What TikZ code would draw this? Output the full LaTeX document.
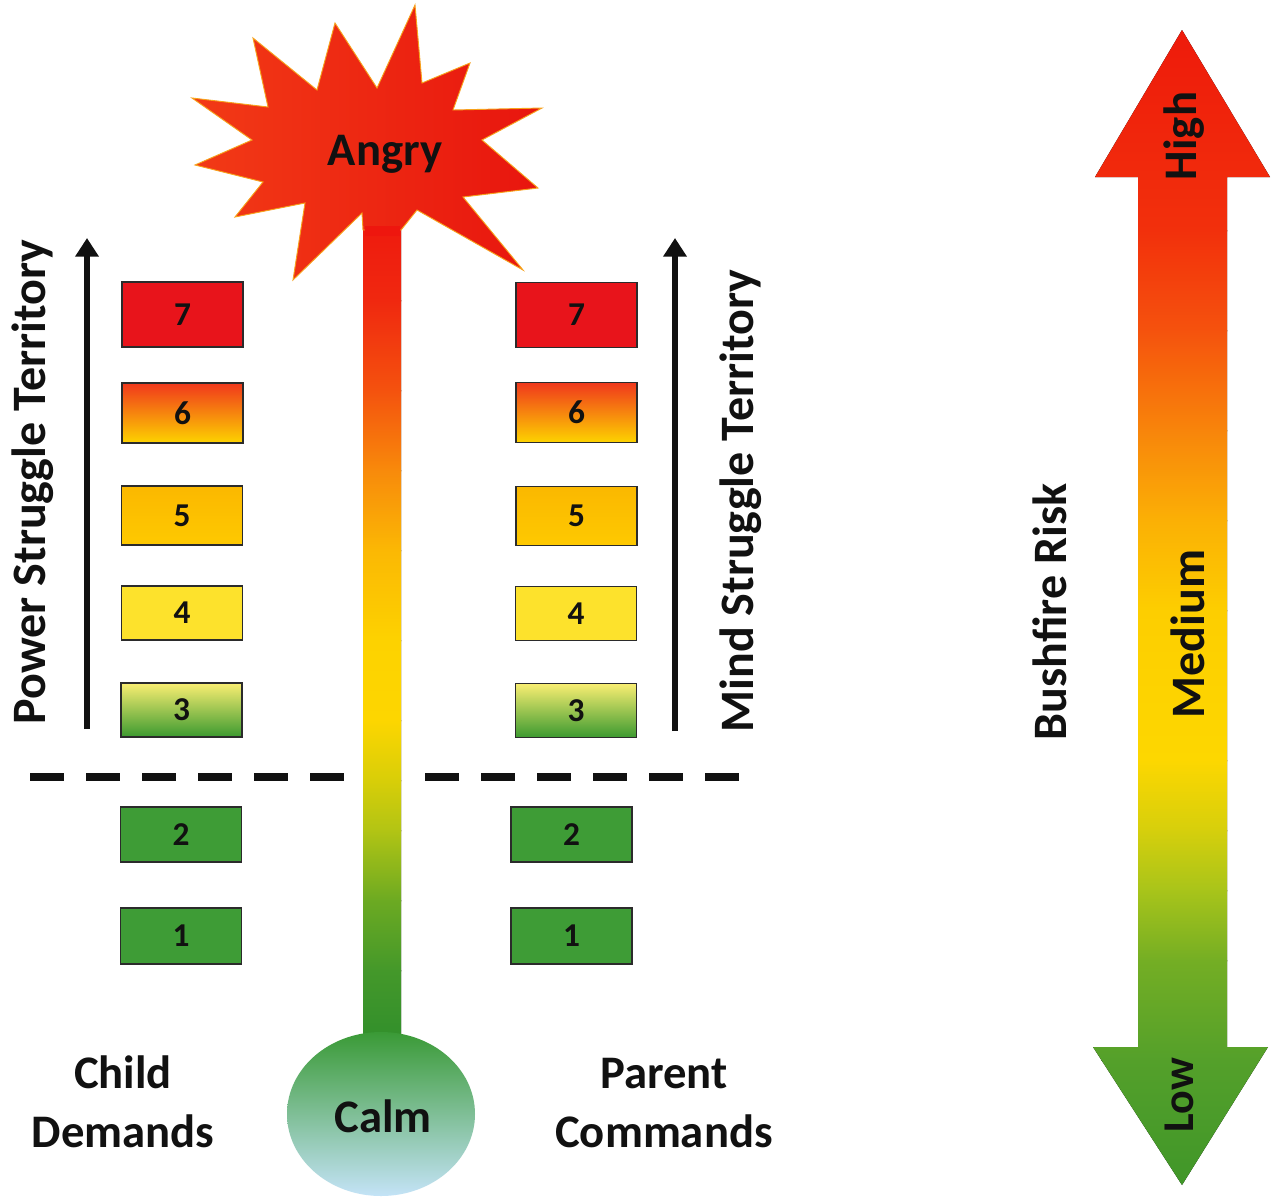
\documentclass[tikz,border=0pt]{standalone}
\usepackage{fontspec}
\setmainfont{Carlito}
\usetikzlibrary{arrows.meta,shapes.geometric}
% box colours
\definecolor{boxline}{HTML}{2B2B2B}
\definecolor{cseven}{HTML}{E8141B}
\definecolor{csixt}{HTML}{F0381C}
\definecolor{csixm}{HTML}{F8900E}
\definecolor{csixb}{HTML}{FDD300}
\definecolor{cfivet}{HTML}{FBB800}
\definecolor{cfiveb}{HTML}{FEC900}
\definecolor{cfour}{HTML}{FDE22C}
\definecolor{cthreet}{HTML}{F9EE72}
\definecolor{cthreem}{HTML}{C4D848}
\definecolor{cthreeb}{HTML}{3C9A30}
\definecolor{cgreen}{HTML}{3E9C36}
% star
\definecolor{starl}{HTML}{F23A16}
\definecolor{starr}{HTML}{E8150E}
\definecolor{starrim}{HTML}{F7A21C}
% circle
\definecolor{calmt}{HTML}{3A9A36}
\definecolor{calmm}{HTML}{80C190}
\definecolor{calmb}{HTML}{C4E3F7}
% stem stops
\definecolor{st0}{HTML}{EE160E}
\definecolor{st1}{HTML}{F0280F}
\definecolor{st2}{HTML}{F4520E}
\definecolor{st3}{HTML}{F88A0B}
\definecolor{st4}{HTML}{FBB804}
\definecolor{st5}{HTML}{FDD200}
\definecolor{st6}{HTML}{FDD600}
\definecolor{st7}{HTML}{D8CE08}
\definecolor{st8}{HTML}{B2C414}
\definecolor{st9}{HTML}{6CAA22}
\definecolor{st10}{HTML}{44982A}
\definecolor{st11}{HTML}{2F8E2C}
% big arrow stops
\definecolor{ar0}{HTML}{EE1A0B}
\definecolor{ar1}{HTML}{F2300C}
\definecolor{ar2}{HTML}{F5520D}
\definecolor{ar3}{HTML}{F8850B}
\definecolor{ar4}{HTML}{FBB005}
\definecolor{ar5}{HTML}{FDCE00}
\definecolor{ar6}{HTML}{FDD700}
\definecolor{ar7}{HTML}{D6CF0C}
\definecolor{ar8}{HTML}{A8C41A}
\definecolor{ar9}{HTML}{74AE24}
\definecolor{ar10}{HTML}{54A02A}
\definecolor{ar11}{HTML}{3F9629}
\definecolor{ink}{HTML}{111111}

\begin{document}
\begin{tikzpicture}[x=0.75pt,y=-0.75pt,
  lvl/.style={draw=boxline, line width=1.4pt, minimum width=90.75pt, inner sep=0pt,
    text=ink, font=\fontsize{25}{30}\selectfont\bfseries},
  lbl/.style={inner sep=0pt, text=ink, font=\fontsize{35}{42}\selectfont\bfseries},
  divider/.style={line width=6pt, dash pattern=on 25.5pt off 16.5pt, draw=ink},
  climb/.style={line width=4.6pt, draw=ink, -{Triangle[length=14pt,width=17pt]}}
]
\useasboundingbox[fill=white] (0,0) rectangle (1278,1197);

% ---------- thermometer stem ----------
\begin{scope}
  \clip (363,200) rectangle (401,1050);
  \foreach \ya/\yb/\ca/\cb in {200/300/st0/st1, 300/390/st1/st2, 390/470/st2/st3,
      470/550/st3/st4, 550/640/st4/st5, 640/720/st5/st6, 720/780/st6/st7,
      780/830/st7/st8, 830/900/st8/st9, 900/970/st9/st10, 970/1050/st10/st11}
    \fill[top color=\ca, bottom color=\cb] (360,\ya) rectangle (404,\yb+1);
\end{scope}

% ---------- calm bulb ----------
\node[ellipse, minimum width=141pt, minimum height=123pt, inner sep=0pt,
      top color=calmt, middle color=calmm, bottom color=calmb] (bulb) at (381,1114) {};
\node[lbl, anchor=base] (calm) at (383,1132) {Calm};

% ---------- angry star ----------
\path[left color=starl, right color=starr, draw=starrim, line width=0.7pt, line join=miter]
  (415,5) -- (422,83) -- (470,63) -- (453,110) -- (542,108) -- (482,140)
  -- (538,188) -- (463,197) -- (523,270) -- (417,210) -- (401,230) -- (363,230)
  -- (362,213) -- (293,280) -- (305,203) -- (235,217) -- (263,182) -- (195,165)
  -- (252,140) -- (192,98) -- (268,107) -- (253,38) -- (317,90) -- (335,23)
  -- (377,88) -- cycle;
\fill[st0] (364.5,226) rectangle (399.5,236);
\node[lbl, anchor=base] (angry) at (385,165) {Angry};

% ---------- level boxes, left ----------
\node[lvl, minimum height=48.75pt, fill=cseven] (L7) at (182.5,314.5) {7};
\node[lvl, minimum height=45pt, top color=csixt, middle color=csixm, bottom color=csixb] (L6) at (182.5,413) {6};
\node[lvl, minimum height=44.25pt, top color=cfivet, bottom color=cfiveb] (L5) at (182,515.5) {5};
\node[lvl, minimum height=40.5pt, fill=cfour] (L4) at (182,613) {4};
\node[lvl, minimum height=40.5pt, top color=cthreet, middle color=cthreem, bottom color=cthreeb] (L3) at (181.5,710) {3};
\node[lvl, minimum height=41.25pt, fill=cgreen] (L2) at (181,834.5) {2};
\node[lvl, minimum height=42pt, fill=cgreen] (L1) at (181,936) {1};

% ---------- level boxes, right ----------
\node[lvl, minimum height=48.75pt, fill=cseven] (R7) at (576.5,315) {7};
\node[lvl, minimum height=45pt, top color=csixt, middle color=csixm, bottom color=csixb] (R6) at (576.5,412.5) {6};
\node[lvl, minimum height=44.25pt, top color=cfivet, bottom color=cfiveb] (R5) at (576.5,516) {5};
\node[lvl, minimum height=40.5pt, fill=cfour] (R4) at (576,613.5) {4};
\node[lvl, minimum height=40.5pt, top color=cthreet, middle color=cthreem, bottom color=cthreeb] (R3) at (576,710.5) {3};
\node[lvl, minimum height=41.25pt, fill=cgreen] (R2) at (571.5,834.5) {2};
\node[lvl, minimum height=42pt, fill=cgreen] (R1) at (571.5,936) {1};

% ---------- dashed thresholds ----------
\coordinate (dl0) at (30,777);  \coordinate (dl1) at (348,777);
\coordinate (dr0) at (425,777); \coordinate (dr1) at (740,777);
\draw[divider] (dl0) -- (dl1);
\draw[divider] (dr0) -- (dr1);

% ---------- territory arrows ----------
\coordinate (la0) at (87,729);  \coordinate (la1) at (87,238);
\coordinate (ra0) at (675,731); \coordinate (ra1) at (675,238);
\draw[climb] (la0) -- (la1);
\draw[climb] (ra0) -- (ra1);
\node[lbl, rotate=90, font=\fontsize{36}{42}\selectfont\bfseries] (power) at (33,482) {Power Struggle Territory};
\node[lbl, rotate=90, font=\fontsize{36}{42}\selectfont\bfseries] (mind) at (741,501) {Mind Struggle Territory};

% ---------- bottom captions ----------
\node[lbl, anchor=base] (child) at (123,1088) {Child};
\node[lbl, anchor=base] (demands) at (123,1147) {Demands};
\node[lbl, anchor=base] (parent) at (664,1088) {Parent};
\node[lbl, anchor=base] (commands) at (664,1147) {Commands};

% ---------- bushfire risk arrow ----------
\begin{scope}
  \clip (1182,30) -- (1270,177) -- (1227,177) -- (1227,1047) -- (1268,1047)
    -- (1182,1185) -- (1093,1047) -- (1138,1047) -- (1138,177) -- (1095,177) -- cycle;
  \foreach \ya/\yb/\ca/\cb in {25/230/ar0/ar1, 230/330/ar1/ar2, 330/430/ar2/ar3,
      430/520/ar3/ar4, 520/610/ar4/ar5, 610/760/ar5/ar6, 760/830/ar6/ar7,
      830/890/ar7/ar8, 890/960/ar8/ar9, 960/1060/ar9/ar10, 1060/1190/ar10/ar11}
    \fill[top color=\ca, bottom color=\cb] (1088,\ya) rectangle (1275,\yb+1);
\end{scope}
\node[lbl, rotate=90] (high) at (1184,136) {High};
\node[lbl, rotate=90, font=\fontsize{36}{42}\selectfont\bfseries] (medium) at (1188,634) {Medium};
\node[lbl, rotate=90, font=\fontsize{33}{40}\selectfont\bfseries] (low) at (1179,1095) {Low};
\node[lbl, rotate=90, font=\fontsize{36}{42}\selectfont\bfseries] (risk) at (1050,612) {Bushfire Risk};
\end{tikzpicture}
\end{document}
